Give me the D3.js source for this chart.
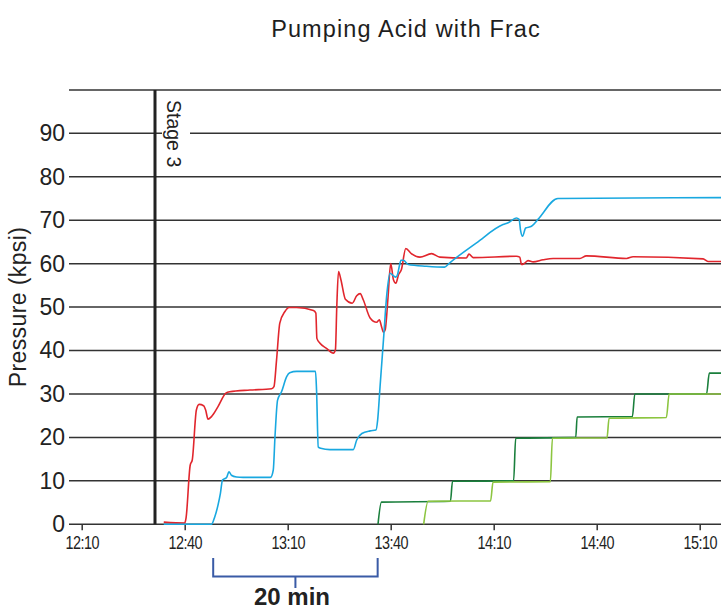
<!DOCTYPE html>
<html>
<head>
<meta charset="utf-8">
<script src="https://cdn.jsdelivr.net/npm/d3@7"></script>
<style>
  html, body { margin: 0; padding: 0; background: #fff; }
  svg { display: block; }
</style>
</head>
<body>
<div id="chart"></div>
<script>
// times are minutes after 12:00, values in kpsi
const redSeries = [
  [33.9, 0.5], [40, 0.3], [40.4, 1.5], [41.6, 13.6], [42.2, 14.8], [43.4, 26.3], [44.2, 27.6],
  [45.5, 27.3], [46.1, 26.3], [46.8, 24.2], [47.8, 24.8], [49.7, 27.1], [52, 30.2], [53.1, 30.5],
  [59, 30.9], [65.3, 31.2], [66, 31.7], [66.75, 37.8], [67.7, 46.3], [69.2, 49], [70.4, 49.9],
  [72.6, 49.9], [77.5, 49.2], [78.2, 48.6], [78.5, 42.8], [79.4, 41.7], [81.3, 40.5], [83.3, 39.4],
  [83.9, 40.2], [84.3, 50.2], [84.8, 58.2], [85.5, 56.3], [86.8, 51.8], [88.8, 50.9], [90.1, 52.6],
  [91.1, 53.1], [92, 51.7], [94, 47.5], [95.9, 46.5], [96.7, 47.1], [97.2, 45.9], [97.9, 44.2],
  [98.4, 44.8], [99.2, 52], [100, 60], [100.8, 56.3], [101.5, 55.5], [102.3, 57.5], [103.1, 58.6],
  [104.4, 63.5], [106, 62.3], [108.5, 61.5], [111.9, 62.3], [114.3, 61.5], [122, 61.3], [122.8, 62.2],
  [124, 61.4], [136.6, 61.7], [137.6, 61.5], [138.1, 59.8], [139, 60.1], [140, 60.7], [141.5, 60.4],
  [144.4, 60.9], [147.3, 61.2], [155.1, 61.2], [157, 61.8], [168.7, 61.2], [170.6, 61.6], [191, 61.1],
  [192.4, 60.5], [196.5, 60.5]
];

const blueSeries = [
  [33.9, 0], [47.8, 0], [48.75, 1.7], [49.7, 4.4], [50.4, 7.1], [51, 10.2], [52.2, 10.8], [52.9, 12.1],
  [53.6, 11.3], [55.1, 10.9], [57, 10.8], [65, 10.8], [65.8, 12.5], [66.3, 20.2], [67.05, 28.6],
  [68.2, 30.5], [69.7, 34], [70.6, 34.9], [72.6, 35.2], [78.1, 35.2], [78.4, 30.9], [78.9, 17.8],
  [79.6, 17.5], [82.3, 17.2], [89.1, 17.2], [90.1, 19.4], [91.6, 20.9], [94, 21.5], [95.7, 21.7],
  [96.2, 24], [96.9, 31.7], [97.9, 42.5], [98.9, 53.2], [99.8, 57.8], [100.8, 57.2], [101.5, 56.9],
  [102, 57.5], [102.5, 59.4], [103, 60.8], [103.7, 60.8], [105.1, 59.8], [110.4, 59.4], [115.7, 59.2],
  [117.2, 60.2], [125, 64.8], [132.7, 69], [134.2, 69.4], [136.6, 70.5], [137.4, 70.2], [137.8, 67.8],
  [138.4, 66.3], [139.3, 68.2], [141, 68.6], [142.9, 70.2], [148.7, 75], [196.5, 75.2]
];

const darkGreenSeries = [
  [96.3, 0], [97.3, 5.1], [117.4, 5.3], [118, 9.9], [135.8, 10], [136.4, 19.8], [153.9, 20],
  [154.3, 24.7], [170.4, 24.8], [171.1, 30], [192, 30], [192.8, 34.8], [196.5, 34.8]
];

const lightGreenSeries = [
  [109.6, 0], [110.9, 5.3], [129.1, 5.4], [129.8, 9.7], [146.5, 9.8], [147.1, 19.8], [163, 19.9],
  [163.6, 24.4], [180.3, 24.6], [181.1, 30], [196.5, 30]
];

const timeTicks = ['12:10', '12:40', '13:10', '13:40', '14:10', '14:40', '15:10'];
const pressureTicks = [0, 10, 20, 30, 40, 50, 60, 70, 80, 90];
const gridValues = [0, 10, 20, 30, 40, 50, 60, 70, 80, 90, 100];
const stageTime = 31.35;           // Stage 3 marker
const bracketTimes = [48.3, 96.2]; // "20 min" bracket ends

const W = 721, H = 611;
const base = new Date(2000, 0, 1, 12, 0);
const toDate = m => new Date(base.getTime() + m * 60000);
const parseClock = s => {
  const [h, m] = s.split(':').map(Number);
  return new Date(2000, 0, 1, h, m);
};

const x = d3.scaleTime()
  .domain([toDate(10), toDate(190)])
  .range([81.7, 699.7]);
const y = d3.scaleLinear()
  .domain([0, 100])
  .range([524.3, 89.9]);

const gridLeft = 69, gridRight = W;
const sans = '"Liberation Sans", Arial, sans-serif';

const svg = d3.select('#chart').append('svg')
  .attr('width', W)
  .attr('height', H);

// title
svg.append('text')
  .attr('x', 406)
  .attr('y', 36.5)
  .attr('text-anchor', 'middle')
  .style('font-family', sans)
  .style('font-size', '23.5px')
  .style('letter-spacing', '1.1px')
  .attr('fill', '#1e1e1e')
  .text('Pumping Acid with Frac');

// horizontal grid lines
svg.append('g')
  .selectAll('line')
  .data(gridValues)
  .join('line')
  .attr('x1', gridLeft)
  .attr('x2', gridRight)
  .attr('y1', d => y(d))
  .attr('y2', d => y(d))
  .attr('stroke', '#333')
  .attr('stroke-width', 1.5);

// y labels
const yAxis = svg.append('g')
  .attr('transform', `translate(${gridLeft},0)`)
  .call(d3.axisLeft(y).tickValues(pressureTicks).tickSize(0).tickPadding(4));
yAxis.select('.domain').remove();
yAxis.selectAll('text')
  .style('font-family', sans)
  .style('font-size', '23px')
  .attr('fill', '#222');

svg.append('text')
  .attr('transform', 'translate(26,307) rotate(-90)')
  .attr('text-anchor', 'middle')
  .style('font-family', sans)
  .style('font-size', '23px')
  .style('letter-spacing', '0.4px')
  .attr('fill', '#222')
  .text('Pressure (kpsi)');

// x axis, labels squeezed to look condensed
const xAxis = svg.append('g')
  .attr('transform', `translate(0,${y(0)})`)
  .call(d3.axisBottom(x)
    .tickValues(timeTicks.map(parseClock))
    .tickFormat(d3.timeFormat('%H:%M'))
    .tickSize(6)
    .tickPadding(6));
xAxis.select('.domain').remove();
xAxis.selectAll('line').attr('stroke', '#333').attr('stroke-width', 1.5);
xAxis.selectAll('text')
  .style('font-family', sans)
  .style('font-size', '18px')
  .style('letter-spacing', '-0.6px')
  .attr('transform', 'scale(0.8,1)')
  .attr('fill', '#222');

// stage 3 marker
const sx = x(toDate(stageTime));
svg.append('rect')
  .attr('x', sx + 7)
  .attr('y', 96)
  .attr('width', 28)
  .attr('height', 74)
  .attr('fill', '#fff');
svg.append('line')
  .attr('x1', sx).attr('x2', sx)
  .attr('y1', y(100)).attr('y2', y(0))
  .attr('stroke', '#222')
  .attr('stroke-width', 3);
svg.append('text')
  .attr('transform', `translate(${sx + 12},100) rotate(90)`)
  .style('font-family', sans)
  .style('font-size', '19.5px')
  .attr('fill', '#222')
  .text('Stage 3');

// series
const line = d3.line()
  .x(d => x(toDate(d[0])))
  .y(d => y(d[1]))
  .curve(d3.curveMonotoneX);

const series = [
  { data: darkGreenSeries, color: '#1a7f3c' },
  { data: lightGreenSeries, color: '#8cc540' },
  { data: redSeries, color: '#e1262d' },
  { data: blueSeries, color: '#19a8e0' }
];

svg.append('g')
  .selectAll('path')
  .data(series)
  .join('path')
  .attr('d', d => line(d.data))
  .attr('fill', 'none')
  .attr('stroke', d => d.color)
  .attr('stroke-width', 1.6)
  .attr('stroke-linejoin', 'round');

// 20 min bracket
const bx0 = x(toDate(bracketTimes[0]));
const bx1 = x(toDate(bracketTimes[1]));
svg.append('path')
  .attr('d', `M${bx0},558 V576.5 H${bx1} V558 M${(bx0 + bx1) / 2},576.5 V588`)
  .attr('fill', 'none')
  .attr('stroke', '#3a5ba6')
  .attr('stroke-width', 2);
svg.append('text')
  .attr('x', 292)
  .attr('y', 605)
  .attr('text-anchor', 'middle')
  .style('font-family', sans)
  .style('font-size', '24px')
  .style('font-weight', 'bold')
  .attr('fill', '#222')
  .text('20 min');
</script>
</body>
</html>
